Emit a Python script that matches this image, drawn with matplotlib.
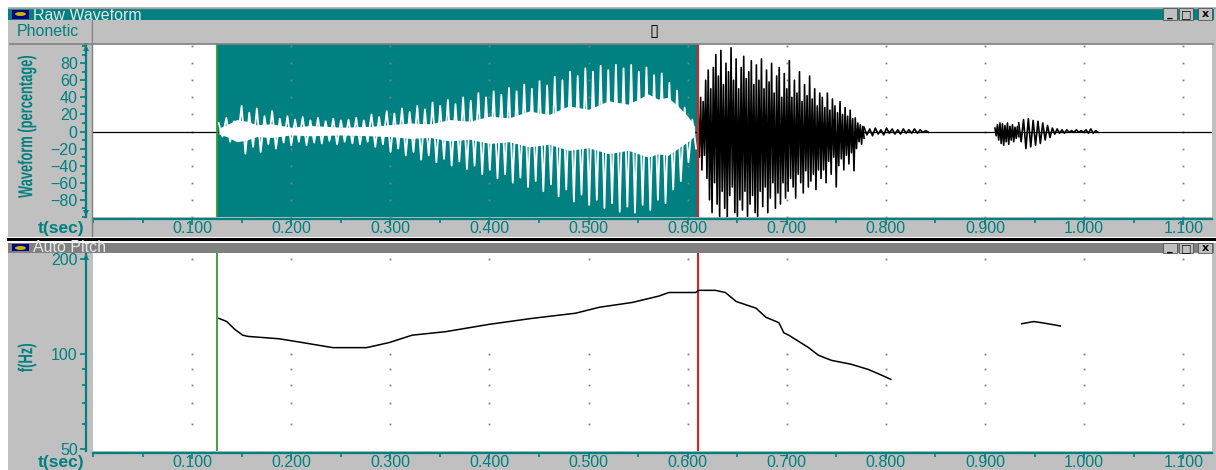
import numpy as np
import matplotlib
matplotlib.use('Agg')
import matplotlib.pyplot as plt
from matplotlib.patches import Rectangle, Ellipse, PathPatch
from matplotlib.lines import Line2D
from matplotlib.textpath import TextPath
from matplotlib.font_manager import FontProperties
from matplotlib.transforms import Affine2D, IdentityTransform
from matplotlib.ticker import MultipleLocator, FixedLocator, NullFormatter, FormatStrFormatter

plt.rcParams['font.family'] = ['Liberation Sans', 'DejaVu Sans']

TEAL = '#008080'
GRAY = '#c0c0c0'
DARK = '#808080'
W, H = 1216, 470

# cursor positions (sec)
green_t = 0.1253
red_t = 0.610

# voiced part (inside selection), one hi/lo extreme per pitch cycle
voiced_start, voiced_end = 0.1268, 0.6085
voiced_hi = [10, 16, 12, 30, 22, 27, 18, 24, 15, 18,
             14, 17, 13, 16, 12, 15, 13, 14, 16, 13,
             20, 17, 24, 21, 27, 23, 30, 26, 34, 30,
             37, 32, 40, 36, 45, 40, 47, 43, 51, 47,
             55, 50, 59, 54, 64, 60, 70, 65, 74, 70,
             77, 72, 78, 74, 78, 70, 75, 66, 68, 57,
             48, 28, 14]
voiced_lo = [-6, -12, -9, -26, -18, -24, -15, -20, -13, -16,
             -12, -16, -13, -14, -11, -15, -12, -14, -15, -12,
             -18, -15, -24, -20, -28, -24, -33, -28, -36, -32,
             -40, -35, -44, -40, -50, -45, -55, -50, -60, -54,
             -65, -58, -70, -62, -76, -68, -82, -74, -86, -80,
             -90, -84, -94, -88, -95, -86, -92, -80, -84, -68,
             -58, -36, -20]
core_t = [0.127, 0.135, 0.145, 0.155, 0.165, 0.18, 0.2, 0.22, 0.25, 0.28, 0.30, 0.32, 0.34, 0.36, 0.38,
          0.40, 0.42, 0.44, 0.46, 0.48, 0.50, 0.52, 0.54, 0.56, 0.57, 0.58, 0.59, 0.60, 0.607]
core_hi = [4, 8, 14, 12, 8, 9, 5, 7, 5, 6, 8, 10, 9, 14, 12,
           18, 16, 24, 20, 30, 26, 36, 32, 44, 38, 40, 30, 18, 6]
core_lo = [-3, -6, -12, -10, -6, -7, -4, -5, -4, -5, -6, -8, -7, -11, -9,
           -14, -12, -18, -15, -22, -19, -26, -22, -30, -26, -28, -20, -12, -5]

# fricative burst after the selection
burst_start, burst_end = 0.6105, 0.778
burst_hi = [25, 40, 35, 60, 72, 50,
            75, 90, 65, 95, 55, 80, 70, 98, 60, 85, 50, 75, 88, 62, 70,
            83, 55, 78, 60, 85, 50, 72, 58, 80, 45, 65, 75, 40, 68,
            50, 83, 40, 60, 45, 70, 35, 55, 42, 65, 38, 50, 30, 45,
            40, 28, 45, 25, 38, 30, 22, 35, 20, 28, 18, 25, 15,
            16, 10, 8, 6]
burst_lo = [-30, -45, -28, -55, -80, -95,
            -60, -85, -100, -70, -90, -101, -75, -65, -95, -100, -80, -92, -70, -101, -85,
            -75, -95, -101, -70, -88, -65, -95, -78, -60, -90, -72, -85, -60, -78,
            -70, -55, -65, -78, -50, -60, -72, -46, -65, -58, -50, -68, -45, -55,
            -45, -60, -35, -50, -30, -65, -40, -32, -45, -28, -38, -25, -46,
            -20, -12, -15, -8]
tail_start, tail_end = 0.778, 0.843
tail_hi = [5, 3, 4, 2, 4, 3, 2, 3, 2, 3, 2, 1]
tail_lo = [-4, -5, -3, -4, -2, -3, -3, -2, -2, -2, -1, -1]

# small syllable near 0.9 - 1.0 s
noise2_start, noise2_end = 0.910, 0.934
noise2_hi = [4, 8, 10, 9, 7, 10, 6, 8, 5, 6]
noise2_lo = [-5, -10, -14, -16, -12, -15, -10, -12, -8, -6]
osc2_start, osc2_end = 0.934, 1.014
osc2_hi = [10, 14, 15, 13, 12, 10, 7, 4, 3, 2, 2, 1, 2, 1, 2, 3, 1]
osc2_lo = [-12, -20, -18, -16, -14, -10, -7, -3, -2, -2, -1, -1, -1, -1, -2, -2, -1]

# auto pitch track (Hz)
pitch_t1 = [0.127, 0.135, 0.143, 0.151, 0.156, 0.188, 0.211, 0.242, 0.276, 0.299, 0.322, 0.356,
            0.400, 0.443, 0.487, 0.511, 0.544, 0.571, 0.581, 0.608, 0.611, 0.628, 0.638, 0.649,
            0.669, 0.679, 0.692, 0.697, 0.702, 0.722, 0.732, 0.745, 0.765, 0.782, 0.796, 0.805]
pitch_f1 = [130, 127, 120, 115, 114, 112, 109, 105, 105, 109, 115, 118,
            124.5, 130, 135, 141, 146, 153, 157, 157, 159.5, 159.5, 157, 147,
            140, 131, 126, 117, 115, 105, 99.3, 95.7, 93, 89.6, 85.8, 83.3]
pitch_t2 = [0.937, 0.949, 0.957, 0.976]
pitch_f2 = [125, 127, 126, 123]

x_major = [0.1, 0.2, 0.3, 0.4, 0.5, 0.6, 0.7, 0.8, 0.9, 1.0, 1.1]


def zigzag(t0, t1, hi, lo):
    vals = np.column_stack([hi, lo]).ravel()
    return np.linspace(t0, t1, len(vals)), vals


fig = plt.figure(figsize=(W / 100, H / 100), dpi=100)
fig.patch.set_facecolor('white')


def fx(px):
    return px / W


def fy(py):
    return 1 - py / H


def box(x0, y0, x1, y1, color, z=-5, ec='none', lw=0):
    fig.add_artist(Rectangle((fx(x0), fy(y1)), (x1 - x0) / W, (y1 - y0) / H,
                             transform=fig.transFigure, facecolor=color,
                             edgecolor=ec, linewidth=lw, zorder=z))


def hline(y, x0, x1, color, lw=1.0, z=3):
    fig.add_artist(Line2D([fx(x0), fx(x1)], [fy(y), fy(y)], transform=fig.transFigure,
                          color=color, lw=lw, zorder=z))


def narrow_label(s, cx, cy, length, size):
    # bold label squeezed along its length, drawn rotated like the original
    tp = TextPath((0, 0), s, size=size, prop=FontProperties(family='Liberation Sans', weight='bold'))
    bb = tp.get_extents()
    tr = (Affine2D().translate(-(bb.x0 + bb.width / 2), -(bb.y0 + bb.height / 2))
          .scale(length / bb.width, 1).rotate_deg(90).translate(cx, H - cy))
    fig.add_artist(PathPatch(tr.transform_path(tp), transform=IdentityTransform(),
                             facecolor=TEAL, lw=0, zorder=5))


def title_bar(y0, y1, color, title):
    box(8, y0, 1214, y1, color, z=1)
    # window icon
    box(12, y0 + 1.5, 29, y1 - 1.5, '#000080', z=2)
    fig.add_artist(Ellipse((fx(20.5), fy((y0 + y1) / 2)), 11 / W, 4 / H, transform=fig.transFigure,
                           facecolor='#c8b400', edgecolor='none', zorder=3))
    fig.text(fx(33), fy(y1 - 0.5), title, color='#e8e8e8', fontsize=11.5,
             ha='left', va='baseline', zorder=2)
    # min / max / close buttons
    for bx, glyph in [(1163, '_'), (1179, '□'), (1198, 'x')]:
        box(bx, y0, bx + 14, y1 - 0.5, GRAY, z=3, ec='#404040', lw=0.5)
        fig.text(fx(bx + 7), fy((y0 + y1) / 2), glyph, fontsize=8, fontweight='bold',
                 family='DejaVu Sans', ha='center', va='center', zorder=4)


# window frames
box(8, 7, 1216, 237, GRAY)
box(8, 243, 1216, 470, GRAY)
hline(7.5, 8, 1216, '#a0a0a0', 1)
hline(238.5, 8, 1216, 'black', 2.2, z=2)

title_bar(8, 20, TEAL, 'Raw Waveform')
title_bar(243, 253, DARK, 'Auto Pitch')

# phonetic row
box(10, 20, 91, 43, GRAY, z=2)
box(93, 20, 1213, 43, GRAY, z=2)
hline(43.5, 10, 1213, DARK, 1.2)
fig.add_artist(Line2D([fx(92), fx(92)], [fy(20), fy(236)], transform=fig.transFigure,
                      color=DARK, lw=1, zorder=1))
fig.text(fx(17), fy(31), 'Phonetic', color=TEAL, fontsize=11.5, ha='left', va='center', zorder=4)
fig.text(fx(654), fy(31), '▯', color='black', fontsize=12, family='DejaVu Sans',
         ha='center', va='center', zorder=4)

ax1 = fig.add_axes([fx(93), fy(217.3), (1212 - 93) / W, (217.3 - 44) / H])
ax2 = fig.add_axes([fx(93), fy(450.7), (1212 - 93) / W, (450.7 - 253.3) / H])

for ax in (ax1, ax2):
    ax.set_facecolor('white')
    ax.set_xlim(0, 1.129)
    for s in ('top', 'right'):
        ax.spines[s].set_visible(False)
    ax.spines['left'].set_position(('outward', 5))
    ax.spines['left'].set_color(TEAL)
    ax.spines['left'].set_linewidth(1.6)
    ax.spines['bottom'].set_color(TEAL)
    ax.spines['bottom'].set_linewidth(1.6)
    ax.xaxis.set_major_locator(FixedLocator(x_major))
    ax.xaxis.set_major_formatter(FormatStrFormatter('%.3f'))
    ax.xaxis.set_minor_locator(MultipleLocator(0.05))
    ax.tick_params(axis='both', which='major', colors=TEAL, labelsize=11.5, length=4.5, width=1.2)
    ax.tick_params(axis='both', which='minor', colors=TEAL, length=3, width=1.2)
    ax.tick_params(axis='x', which='major', pad=-3)
    ax.tick_params(axis='y', which='major', pad=1.5)

# ---- raw waveform ----
ax1.spines['bottom'].set_position(('outward', 1.4))
ax1.set_ylim(-100.5, 102.5)
ax1.yaxis.set_major_locator(FixedLocator([-80, -60, -40, -20, 0, 20, 40, 60, 80]))
ax1.yaxis.set_minor_locator(MultipleLocator(10))

ax1.axvspan(green_t, red_t, color=TEAL, lw=0, zorder=0.5)
gx, gy = np.meshgrid(x_major, np.arange(-100, 101, 20))
ax1.plot(gx.ravel(), gy.ravel(), ls='none', marker='s', ms=1.3, mew=0, color=DARK, zorder=1)
ax1.axhline(0, color='black', lw=0.9, zorder=1.5)

ax1.fill_between(core_t, core_lo, core_hi, color='white', lw=0, zorder=2)
t, v = zigzag(voiced_start, voiced_end, voiced_hi, voiced_lo)
ax1.plot(t, v, color='white', lw=1.3, zorder=2.5)
for seg in [(burst_start, burst_end, burst_hi, burst_lo),
            (tail_start, tail_end, tail_hi, tail_lo),
            (noise2_start, noise2_end, noise2_hi, noise2_lo),
            (osc2_start, osc2_end, osc2_hi, osc2_lo)]:
    t, v = zigzag(*seg)
    ax1.plot(t, v, color='black', lw=1.2, zorder=2.5)
ax1.axvline(green_t, color='#2e9e2e', lw=1.3, zorder=3)
ax1.axvline(red_t, color='#e02020', lw=1.5, zorder=3)

# ---- auto pitch ----
ax2.spines['bottom'].set_position(('outward', 1.9))
ax2.set_yscale('log')
ax2.set_ylim(49.5, 209)
ax2.yaxis.set_major_locator(FixedLocator([50, 100, 200]))
ax2.yaxis.set_major_formatter(FormatStrFormatter('%d'))
ax2.yaxis.set_minor_locator(FixedLocator([60, 70, 80, 90]))
ax2.yaxis.set_minor_formatter(NullFormatter())
gx, gy = np.meshgrid(x_major, [60, 70, 80, 90, 100, 200])
ax2.plot(gx.ravel(), gy.ravel(), ls='none', marker='s', ms=1.3, mew=0, color=DARK, zorder=1)
ax2.axvline(green_t, color='#2e9e2e', lw=1.3, zorder=2)
ax2.axvline(red_t, color='#e02020', lw=1.5, zorder=2)
ax2.plot(pitch_t1, pitch_f1, color='black', lw=1.1, zorder=3)
ax2.plot(pitch_t2, pitch_f2, color='black', lw=1.1, zorder=3)

# axis arrows
for py, m in [(48, '^'), (213, 'v'), (257, '^')]:
    fig.add_artist(Line2D([fx(86.3)], [fy(py)], transform=fig.transFigure, marker=m,
                          ms=5, color=TEAL, mew=0, zorder=5))

# axis titles
narrow_label('Waveform (percentage)', 27, 127, 142, 20)
narrow_label('f(Hz)', 27, 358, 28, 20)
for py in (228, 463):
    fig.text(fx(61), fy(py), 't(sec)', color=TEAL, fontsize=12.5, fontweight='bold',
             ha='center', va='center')

fig.savefig('out.png', dpi=100)
